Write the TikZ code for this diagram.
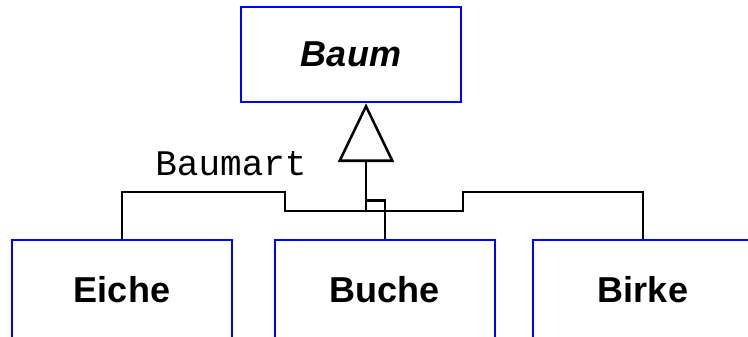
\documentclass[tikz,border=0pt]{standalone}
\usepackage{fontspec}
\setmainfont{Liberation Sans}
\setmonofont{Liberation Mono}
\usetikzlibrary{arrows.meta}

\begin{document}
\begin{tikzpicture}[x=0.75pt, y=-0.75pt, line width=1.9pt,
    klasse/.style={draw=blue, line width=2pt, minimum width=165pt,
      font=\fontsize{27}{30}\selectfont\bfseries}]
  \clip (0,0) rectangle (748,336);
  \node[klasse, minimum height=71.25pt] (baum) at (351,54.5) {\itshape Baum};
  \foreach \name/\text/\x in {eiche/Eiche/122, buche/Buche/385, birke/Birke/643}
    \node[klasse, minimum height=75pt] (\name) at (\x,290) {\text};
  \node[anchor=base, font=\ttfamily\fontsize{27}{30}\selectfont] (rolle) at (231,175) {Baumart};
  \coordinate (joint) at (366,211);
  \coordinate (lstep) at (285,192);
  \coordinate (rstep) at (463,192);
  \draw[-{Triangle[open, width=42pt, length=44pt]}] (joint) -- (joint |- baum.south);
  \draw (eiche.north) |- (lstep) |- (joint);
  \draw (birke.north) |- (rstep) |- (joint);
  \draw (buche.north) -- ++(0,-38) -| (joint);
\end{tikzpicture}
\end{document}
